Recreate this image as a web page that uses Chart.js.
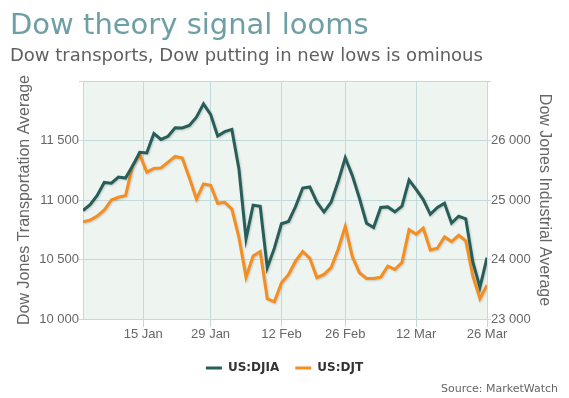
<!DOCTYPE html>
<html>
<head>
<meta charset="utf-8">
<script src="https://cdn.jsdelivr.net/npm/chart.js@4.4.1/dist/chart.umd.min.js"></script>
<style>
  html, body { margin: 0; padding: 0; background: #fff; }
  #wrap { position: relative; width: 569px; height: 398px; overflow: hidden; }
  #chart { position: absolute; left: 0; top: 0; }
  .title { position: absolute; left: 10px; top: 10px; font-family: "DejaVu Sans", sans-serif; font-size: 29px; line-height: 29px; color: #6d9fa5; white-space: nowrap; }
  .subtitle { position: absolute; left: 10px; top: 46px; font-family: "DejaVu Sans", sans-serif; font-size: 18px; line-height: 18px; color: #606060; white-space: nowrap; }
  .source { position: absolute; right: 11px; top: 383px; font-family: "DejaVu Sans", sans-serif; font-size: 11px; line-height: 11px; color: #666; white-space: nowrap; }
</style>
</head>
<body>
<div id="wrap">
  <canvas id="chart" width="569" height="398"></canvas>
  <div class="title">Dow theory signal looms</div>
  <div class="subtitle">Dow transports, Dow putting in new lows is ominous</div>
  <div class="source">Source: MarketWatch</div>
</div>
<script>
// trading days, Jan 2 - Mar 26 2018
const dates = [
  '2018-01-02', '2018-01-03', '2018-01-04', '2018-01-05', '2018-01-08', '2018-01-09', '2018-01-10', '2018-01-11', '2018-01-12',
  '2018-01-16', '2018-01-17', '2018-01-18', '2018-01-19', '2018-01-22', '2018-01-23', '2018-01-24', '2018-01-25', '2018-01-26',
  '2018-01-29', '2018-01-30', '2018-01-31', '2018-02-01', '2018-02-02', '2018-02-05', '2018-02-06', '2018-02-07', '2018-02-08',
  '2018-02-09', '2018-02-12', '2018-02-13', '2018-02-14', '2018-02-15', '2018-02-16', '2018-02-20', '2018-02-21', '2018-02-22',
  '2018-02-23', '2018-02-26', '2018-02-27', '2018-02-28', '2018-03-01', '2018-03-02', '2018-03-05', '2018-03-06', '2018-03-07',
  '2018-03-08', '2018-03-09', '2018-03-12', '2018-03-13', '2018-03-14', '2018-03-15', '2018-03-16', '2018-03-19', '2018-03-20',
  '2018-03-21', '2018-03-22', '2018-03-23', '2018-03-26'
];

// US:DJIA (right axis)
const djia = [
  24824, 24922, 25075, 25295, 25283, 25385, 25369, 25574, 25803,
  25792, 26116, 26017, 26071, 26214, 26210, 26252, 26392, 26616,
  26439, 26076, 26149, 26186, 25521, 24346, 24912, 24893, 23860,
  24191, 24601, 24640, 24893, 25201, 25219, 24964, 24798, 24963,
  25310, 25709, 25410, 25029, 24609, 24538, 24875, 24884, 24801,
  24895, 25336, 25179, 25007, 24759, 24874, 24947, 24611, 24727,
  24683, 23958, 23533, 24030
];

// US:DJT (left axis)
const djt = [
  10817, 10831, 10865, 10916, 11000, 11023, 11037, 11290, 11380,
  11234, 11265, 11270, 11318, 11366, 11352, 11186, 11008, 11135,
  11124, 10972, 10980, 10924, 10685, 10352, 10530, 10567, 10170,
  10144, 10305, 10375, 10488, 10567, 10510, 10347, 10375, 10431,
  10586, 10778, 10522, 10389, 10341, 10341, 10352, 10445, 10417,
  10474, 10750, 10713, 10764, 10580, 10595, 10690, 10651, 10704,
  10657, 10361, 10172, 10285
];

const tickDates = ['2018-01-15', '2018-01-29', '2018-02-12', '2018-02-26', '2018-03-12', '2018-03-26'];
const tickLabels = ['15 Jan', '29 Jan', '12 Feb', '26 Feb', '12 Mar', '26 Mar'];

// position of a calendar date on the trading-day axis (holidays fall halfway)
const tickPos = tickDates.map(d => {
  const i = dates.indexOf(d);
  if (i >= 0) return i;
  return dates.findIndex(x => x > d) - 0.5;
});

const gridColor = '#c3dada';
const labelFont = { family: '"Liberation Sans", Arial, sans-serif', size: 13 };
const titleFont = { family: '"Liberation Sans", Arial, sans-serif', size: 16 };
const fmt = v => String(v).replace(/\B(?=(\d{3})+(?!\d))/g, ' ');

// light plot background
const plotBg = {
  id: 'plotBg',
  beforeDraw(chart) {
    const { ctx, chartArea: a } = chart;
    ctx.save();
    ctx.fillStyle = '#eef5f1';
    ctx.fillRect(a.left, a.top, a.width, a.height);
    ctx.restore();
  }
};

// soft shadow under the lines
const lineShadow = {
  id: 'lineShadow',
  beforeDatasetDraw(chart) {
    const ctx = chart.ctx;
    ctx.shadowColor = 'rgba(0,0,0,0.18)';
    ctx.shadowBlur = 2;
    ctx.shadowOffsetX = 1;
    ctx.shadowOffsetY = 1;
  },
  afterDatasetDraw(chart) {
    const ctx = chart.ctx;
    ctx.shadowColor = 'rgba(0,0,0,0)';
    ctx.shadowBlur = 0;
    ctx.shadowOffsetX = 0;
    ctx.shadowOffsetY = 0;
  }
};

new Chart(document.getElementById('chart'), {
  type: 'line',
  data: {
    datasets: [
      {
        label: 'US:DJIA',
        data: djia.map((v, i) => ({ x: i, y: v })),
        yAxisID: 'y1',
        borderColor: '#275e5a',
        backgroundColor: '#275e5a',
        borderWidth: 3,
        pointRadius: 0,
        tension: 0
      },
      {
        label: 'US:DJT',
        data: djt.map((v, i) => ({ x: i, y: v })),
        yAxisID: 'y',
        borderColor: '#f68e1f',
        backgroundColor: '#f68e1f',
        borderWidth: 3,
        pointRadius: 0,
        tension: 0
      }
    ]
  },
  options: {
    responsive: false,
    animation: false,
    layout: { padding: { top: 81, bottom: 14, left: 0, right: 0 } },
    plugins: {
      legend: {
        position: 'bottom',
        labels: {
          usePointStyle: true,
          pointStyle: 'line',
          pointStyleWidth: 16,
          padding: 16,
          color: '#333',
          font: { family: '"DejaVu Sans", sans-serif', size: 12, weight: 'bold' }
        }
      },
      tooltip: {
        mode: 'index',
        intersect: false,
        callbacks: {
          title: items => dates[items[0].parsed.x]
        }
      }
    },
    scales: {
      x: {
        type: 'linear',
        min: 0,
        max: dates.length - 1,
        afterBuildTicks: s => { s.ticks = tickPos.map(v => ({ value: v })); },
        afterFit: s => { s.height = 27; },
        grid: { color: gridColor, tickLength: 8 },
        border: { color: gridColor },
        ticks: {
          autoSkip: false,
          maxRotation: 0,
          padding: 0,
          color: '#666',
          font: labelFont,
          callback: (v, i) => tickLabels[i]
        }
      },
      y: {
        position: 'left',
        min: 10000,
        max: 12000,
        afterFit: s => { s.width = 83; },
        grid: { color: gridColor, tickLength: 4 },
        border: { color: gridColor },
        ticks: {
          stepSize: 500,
          padding: 0,
          color: '#666',
          font: labelFont,
          callback: v => (v === 12000 ? '' : fmt(v))
        },
        title: {
          display: true,
          text: 'Dow Jones Transportation Average',
          color: '#666',
          font: titleFont,
          padding: { top: 15, bottom: 0 }
        }
      },
      y1: {
        position: 'right',
        min: 23000,
        max: 27000,
        afterFit: s => { s.width = 82; },
        grid: { color: gridColor, tickLength: 4, drawOnChartArea: false },
        border: { color: gridColor },
        ticks: {
          stepSize: 1000,
          padding: 0,
          color: '#666',
          font: labelFont,
          callback: v => (v === 27000 ? '' : fmt(v))
        },
        title: {
          display: true,
          text: 'Dow Jones Industrial Average',
          color: '#666',
          font: titleFont,
          padding: { top: 15, bottom: 0 }
        }
      }
    }
  },
  plugins: [plotBg, lineShadow]
});
</script>
</body>
</html>
